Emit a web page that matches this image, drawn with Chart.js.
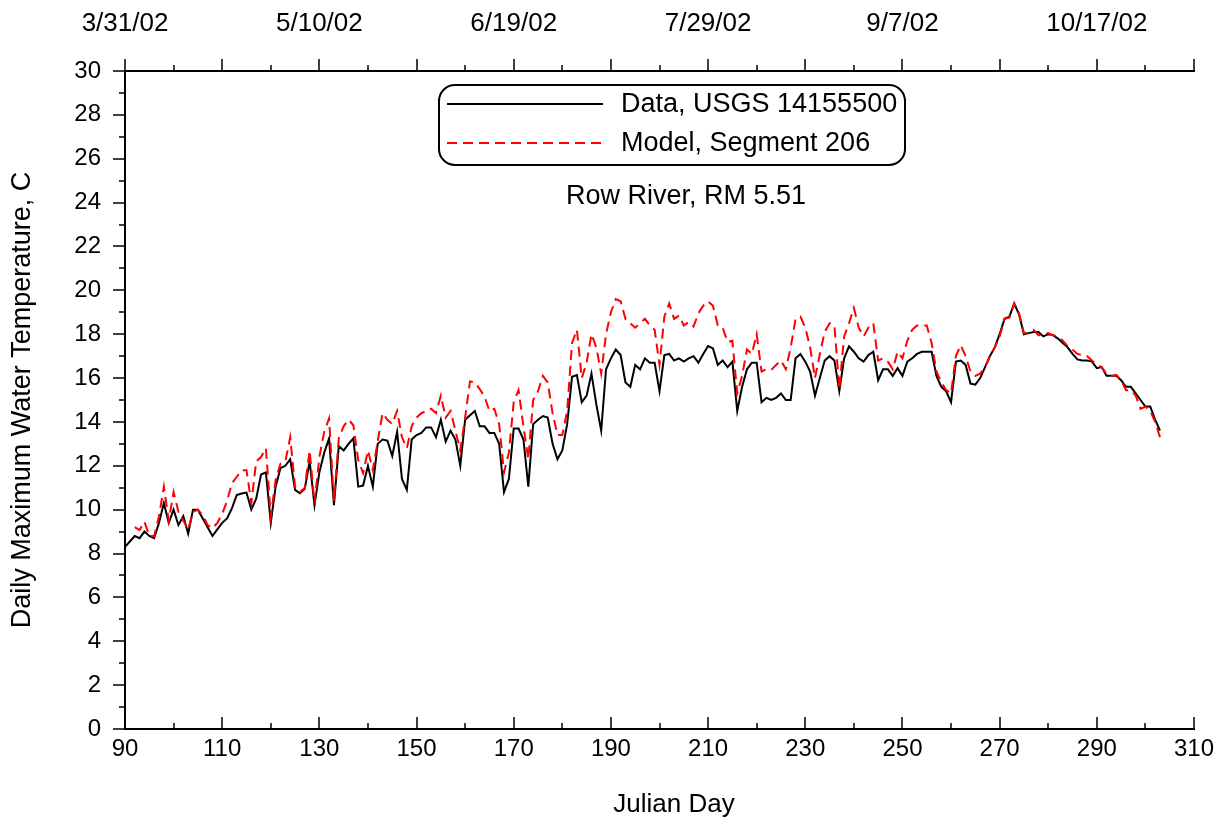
<!DOCTYPE html>
<html>
<head>
<meta charset="utf-8">
<script src="https://cdn.jsdelivr.net/npm/chart.js@4.4.1/dist/chart.umd.min.js"></script>
<style>
  html, body { margin: 0; padding: 0; background: #fff; }
  #chart { display: block; }
</style>
</head>
<body>
<canvas id="chart" width="1224" height="825"></canvas>
<script>
// observed daily max, USGS gage, julian day 90..303
const dataStartDay = 90;
const dataTemps = [
  8.3, 8.55, 8.8, 8.7, 9.0, 8.8, 8.7, 9.4, 10.3, 9.4,
  10.0, 9.3, 9.7, 8.9, 10.0, 10.0, 9.6, 9.2, 8.8, 9.1,
  9.4, 9.6, 10.06, 10.67, 10.74, 10.78, 10.0, 10.5, 11.6, 11.7,
  9.4, 11.05, 11.9, 12.0, 12.3, 10.9, 10.75, 10.95, 12.2, 10.2,
  11.7, 12.6, 13.25, 10.2, 12.9, 12.7, 13.0, 13.25, 11.05, 11.1,
  12.0, 11.05, 13.0, 13.2, 13.15, 12.45, 13.55, 11.4, 10.9, 13.2,
  13.4, 13.5, 13.75, 13.75, 13.3, 14.1, 13.1, 13.6, 13.2, 12.0,
  14.1, 14.3, 14.5, 13.8, 13.8, 13.5, 13.5, 13.0, 10.8, 11.4,
  13.7, 13.7, 13.2, 11.05, 13.9, 14.1, 14.27, 14.2, 13.0, 12.3,
  12.7, 13.9, 16.06, 16.14, 14.9, 15.2, 16.2, 14.8, 13.6, 16.4,
  16.9, 17.3, 17.05, 15.8, 15.6, 16.6, 16.4, 16.9, 16.7, 16.7,
  15.4, 17.05, 17.1, 16.8, 16.9, 16.75, 16.9, 17.0, 16.7, 17.1,
  17.46, 17.35, 16.6, 16.8, 16.5, 16.75, 14.5, 15.6, 16.4, 16.7,
  16.7, 14.9, 15.1, 15.0, 15.1, 15.3, 15.0, 15.0, 16.9, 17.1,
  16.75, 16.3, 15.2, 16.0, 16.8, 17.0, 16.8, 15.4, 16.9, 17.45,
  17.2, 16.9, 16.75, 17.05, 17.2, 15.9, 16.4, 16.4, 16.1, 16.45,
  16.1, 16.75, 16.9, 17.1, 17.2, 17.2, 17.2, 16.1, 15.6, 15.4,
  14.9, 16.75, 16.8, 16.6, 15.75, 15.7, 16.0, 16.5, 17.0, 17.4,
  18.0, 18.7, 18.8, 19.4, 18.9, 18.0, 18.05, 18.1, 18.1, 17.9,
  18.0, 17.96, 17.8, 17.6, 17.4, 17.1, 16.85, 16.8, 16.8, 16.75,
  16.45, 16.5, 16.1, 16.1, 16.1, 15.9, 15.6, 15.6, 15.3, 15.0,
  14.7, 14.7, 14.1, 13.6
];

// model output, segment 206, julian day 92..303
const modelStartDay = 92;
const modelTemps = [
  9.2, 9.07, 9.45, 8.8, 8.8, 9.7, 11.05, 9.5,
  10.8, 9.9, 9.5, 9.1, 9.9, 10.0, 9.75, 9.3, 9.15, 9.4,
  9.8, 10.4, 11.2, 11.5, 11.8, 11.8, 10.3, 12.2, 12.4, 12.8,
  9.7, 11.35, 12.1, 12.2, 13.3, 11.05, 10.8, 11.0, 12.7, 10.3,
  12.4, 13.55, 14.16, 10.4, 13.25, 13.8, 14.1, 13.85, 12.26, 11.66,
  12.7, 11.8, 13.1, 14.4, 14.1, 13.9, 14.5, 13.3, 12.8, 13.8,
  14.2, 14.4, 14.5, 14.6, 14.4, 15.2, 14.2, 14.5, 13.6, 12.7,
  14.2, 15.85, 15.8, 15.5, 15.15, 14.5, 14.6, 13.9, 11.7, 12.6,
  14.9, 15.45, 13.8, 12.3, 15.0, 15.4, 16.1, 15.8, 14.4, 13.4,
  13.4, 14.5, 17.6, 18.2, 16.0, 16.7, 18.0, 17.4, 16.2, 18.0,
  19.0, 19.6, 19.5, 18.7, 18.5, 18.3, 18.5, 18.7, 18.4, 18.2,
  16.6, 18.8, 19.4, 18.7, 18.85, 18.4, 18.55, 18.35, 18.95, 19.3,
  19.5, 19.3, 18.4, 18.3, 17.65, 17.7, 15.3, 16.1, 17.3, 17.1,
  18.0, 16.3, 16.4, 16.37, 16.6, 16.8, 16.4, 17.4, 18.7, 18.8,
  18.3, 17.4, 16.0, 17.1, 18.1, 18.5, 18.4, 15.5, 17.9, 18.5,
  19.2, 18.3, 17.9, 18.3, 18.5, 16.8, 16.9, 16.75, 16.4, 17.2,
  16.9, 17.7, 18.2, 18.4, 18.4, 18.4, 17.6, 16.3, 15.8, 15.45,
  15.3, 17.0, 17.5, 17.0, 16.3, 16.1, 16.2, 16.5, 17.0, 17.4,
  17.9, 18.7, 18.75, 19.4, 18.95, 18.05, 18.05, 18.2, 17.95, 18.0,
  18.05, 17.95, 17.9, 17.7, 17.45, 17.3, 17.1, 17.05, 17.0, 16.8,
  16.6, 16.5, 16.2, 16.1, 16.15, 15.9, 15.45, 15.45, 15.2, 14.6,
  14.7, 14.5, 14.0, 13.3
];

// top axis calendar labels (2002)
const dateDays = [90, 130, 170, 210, 250, 290];
const dateLabels = ['3/31/02', '5/10/02', '6/19/02', '7/29/02', '9/7/02', '10/17/02'];

const seriesNames = ['Data, USGS 14155500', 'Model, Segment 206'];
const siteName = 'Row River, RM 5.51';
const xTitle = 'Julian Day';

const FONT = 'Liberation Sans, Arial, sans-serif';

const toPoints = (start, temps) => temps.map((t, i) => ({ x: start + i, y: t }));

// axis lines + major/minor tick marks, drawn from the scales
const axisFrame = {
  id: 'axisFrame',
  afterDraw(chart) {
    const { ctx, chartArea: a, scales } = chart;
    ctx.save();
    ctx.strokeStyle = '#000';
    ctx.lineWidth = 2;
    ctx.beginPath();
    ctx.moveTo(a.right + 1, a.top);
    ctx.lineTo(a.left, a.top);
    ctx.lineTo(a.left, a.bottom);
    ctx.lineTo(a.right + 1, a.bottom);
    ctx.stroke();

    ctx.lineWidth = 1.5;
    ctx.beginPath();
    const xs = scales.x;
    for (let v = xs.min; v <= xs.max; v += 10) {
      const px = Math.round(xs.getPixelForValue(v));
      const len = (v - xs.min) % 20 === 0 ? 12 : 6;
      // bottom ticks point into the plot, top ticks point outward
      ctx.moveTo(px, a.bottom);
      ctx.lineTo(px, a.bottom - len);
      ctx.moveTo(px, a.top);
      ctx.lineTo(px, a.top - len);
    }
    const ys = scales.y;
    for (let v = ys.min; v <= ys.max; v += 1) {
      const py = Math.round(ys.getPixelForValue(v));
      const len = v % 2 === 0 ? 12 : 6;
      ctx.moveTo(a.left, py);
      ctx.lineTo(a.left - len, py);
    }
    ctx.stroke();

    ctx.font = '26px ' + FONT;
    ctx.fillStyle = '#000';
    ctx.textAlign = 'center';
    ctx.textBaseline = 'middle';
    ctx.fillText(xTitle, 674, 805);
    ctx.restore();
  }
};

// rounded legend box and site caption
const boxLegend = {
  id: 'boxLegend',
  afterDraw(chart) {
    const { ctx } = chart;
    const bx = 439, by = 85, bw = 466, bh = 80, r = 16;
    ctx.save();
    ctx.strokeStyle = '#000';
    ctx.lineWidth = 2;
    ctx.beginPath();
    ctx.roundRect(bx, by, bw, bh, r);
    ctx.stroke();

    ctx.font = '27px ' + FONT;
    ctx.fillStyle = '#000';
    ctx.textBaseline = 'middle';
    chart.data.datasets.forEach((ds, i) => {
      const y = by + 19 + i * 39;
      ctx.strokeStyle = ds.borderColor;
      ctx.lineWidth = ds.borderWidth;
      ctx.setLineDash(ds.borderDash || []);
      ctx.beginPath();
      ctx.moveTo(bx + 8, y);
      ctx.lineTo(bx + 164, y);
      ctx.stroke();
      ctx.setLineDash([]);
      ctx.fillText(ds.label, bx + 182, y + 1);
    });

    ctx.textAlign = 'center';
    ctx.fillText(siteName, 686, 197);
    ctx.restore();
  }
};

new Chart(document.getElementById('chart'), {
  type: 'line',
  data: {
    datasets: [
      {
        label: seriesNames[0],
        data: toPoints(dataStartDay, dataTemps),
        borderColor: '#000000',
        borderWidth: 2,
        pointRadius: 0,
        tension: 0,
        order: 2,
      },
      {
        label: seriesNames[1],
        data: toPoints(modelStartDay, modelTemps),
        borderColor: '#ff0000',
        borderWidth: 2,
        borderDash: [10, 6],
        pointRadius: 0,
        tension: 0,
        order: 1,
      },
    ],
  },
  options: {
    responsive: false,
    animation: false,
    layout: { padding: { top: 0, right: 30, bottom: 0, left: 0 } },
    plugins: {
      legend: { display: false },
      tooltip: { enabled: false },
    },
    scales: {
      x: {
        type: 'linear',
        position: 'bottom',
        min: 90,
        max: 310,
        grid: { display: false, drawTicks: false },
        border: { display: false },
        ticks: {
          stepSize: 20,
          autoSkip: false,
          maxRotation: 0,
          padding: 6,
          color: '#000',
          font: { family: FONT, size: 24 },
        },
        afterFit: (s) => { s.height = 96; },
      },
      x2: {
        type: 'linear',
        position: 'top',
        min: 90,
        max: 310,
        grid: { display: false, drawTicks: false },
        border: { display: false },
        afterBuildTicks: (s) => { s.ticks = dateDays.map((d) => ({ value: d })); },
        ticks: {
          autoSkip: false,
          maxRotation: 0,
          padding: 32,
          color: '#000',
          font: { family: FONT, size: 26 },
          callback: (v) => {
            const k = dateDays.indexOf(v);
            return k < 0 ? '' : dateLabels[k];
          },
        },
        afterFit: (s) => { s.height = 71; },
      },
      y: {
        min: 0,
        max: 30,
        grid: { display: false, drawTicks: false },
        border: { display: false },
        ticks: {
          stepSize: 2,
          padding: 24,
          color: '#000',
          font: { family: FONT, size: 24 },
        },
        title: {
          display: true,
          text: 'Daily Maximum Water Temperature, C',
          color: '#000',
          font: { family: FONT, size: 27 },
          padding: { top: 6, bottom: 0 },
        },
        afterFit: (s) => { s.width = 125; },
      },
    },
  },
  plugins: [axisFrame, boxLegend],
});
</script>
</body>
</html>
